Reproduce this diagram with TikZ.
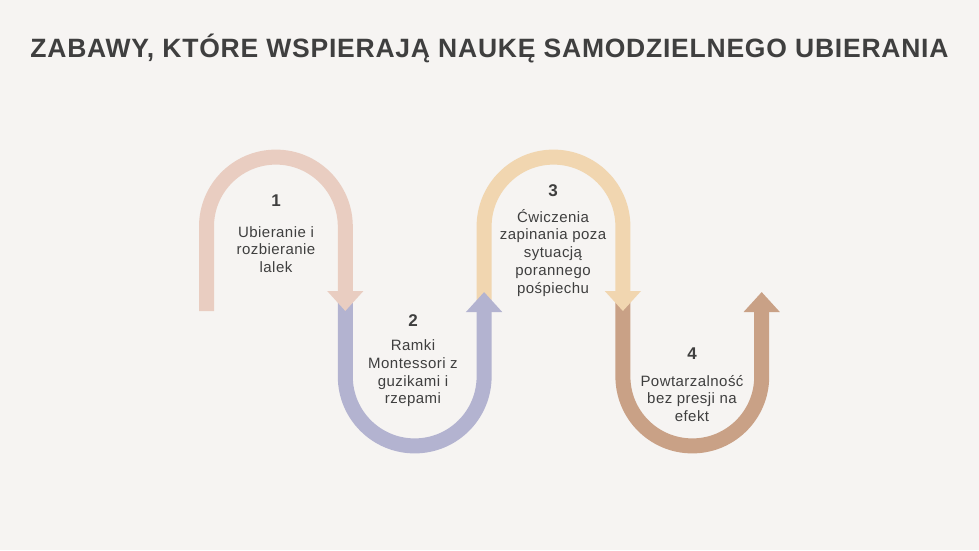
\documentclass[tikz,border=0pt]{standalone}
\usepackage{fontspec}
\setmainfont{Liberation Sans}
\newfontfamily\titlefont[LetterSpace=2.9]{Liberation Sans}
\newfontfamily\labelfont[LetterSpace=3]{Liberation Sans}
\usetikzlibrary{arrows.meta,positioning}
\definecolor{bgpaper}{HTML}{F6F4F2}
\definecolor{inkgrey}{HTML}{3F3F3F}
\definecolor{pinkarc}{HTML}{E9CDC1}
\definecolor{lilacarc}{HTML}{B3B3D0}
\definecolor{sandarc}{HTML}{F1D6B0}
\definecolor{brownarc}{HTML}{C9A186}
\tikzset{
  uarrow/.style={line width=15pt,-{Triangle[width=35pt,length=20pt]}},
  stepnum/.style={inner sep=0pt,text=inkgrey,font=\fontsize{17}{17}\selectfont\bfseries},
  stepdesc/.style={inner sep=0pt,align=center,text=inkgrey,font=\labelfont\fontsize{15}{17.8}\selectfont},
  headline/.style={inner sep=0pt,anchor=base,text=inkgrey,font=\titlefont\fontsize{26.5}{30}\selectfont\bfseries}
}

\begin{document}
\begin{tikzpicture}[x=1pt,y=-1pt]
\fill[bgpaper] (0,0) rectangle (979,550);
\useasboundingbox (0,0) rectangle (979,550);
\node[headline] (T) at (489.5,57.3) {ZABAWY, KTÓRE WSPIERAJĄ NAUKĘ SAMODZIELNEGO UBIERANIA};
% ends of the four arrows
\coordinate (s1) at (206.5,311);
\coordinate (e1) at (345.3,311);
\coordinate (s2) at (345.3,302);
\coordinate (e2) at (484.1,292);
\coordinate (s3) at (484.1,300);
\coordinate (e3) at (622.9,311);
\coordinate (s4) at (622.9,302);
\coordinate (e4) at (761.7,292);
\draw[uarrow,brownarc] (s4) -- (622.9,376.5) arc[start angle=180,end angle=0,radius=69.4] -- (e4);
\draw[uarrow,sandarc] (s3) -- (484.1,226.5) arc[start angle=180,end angle=360,radius=69.4] -- (e3);
\draw[uarrow,lilacarc] (s2) -- (345.3,376.5) arc[start angle=180,end angle=0,radius=69.4] -- (e2);
\draw[uarrow,pinkarc] (s1) -- (206.5,226.5) arc[start angle=180,end angle=360,radius=69.4] -- (e1);
% labels
\node[stepnum] (n1) at (276,200.5) {1};
\node[stepdesc,below=17.9pt of n1] (d1) {\strut Ubieranie i\\rozbieranie\\lalek};
\node[stepnum] (n2) at (413,320.5) {2};
\node[stepdesc,below=11.2pt of n2] (d2) {\strut Ramki\\Montessori z\\guzikami i\\rzepami};
\node[stepnum] (n3) at (553,190.3) {3};
\node[stepdesc,below=12.4pt of n3] (d3) {\strut Ćwiczenia\\zapinania poza\\sytuacją\\porannego\\pośpiechu};
\node[stepnum] (n4) at (692,353.3) {4};
\node[stepdesc,below=14pt of n4] (d4) {\strut Powtarzalność\\bez presji na\\efekt};
\end{tikzpicture}
\end{document}
